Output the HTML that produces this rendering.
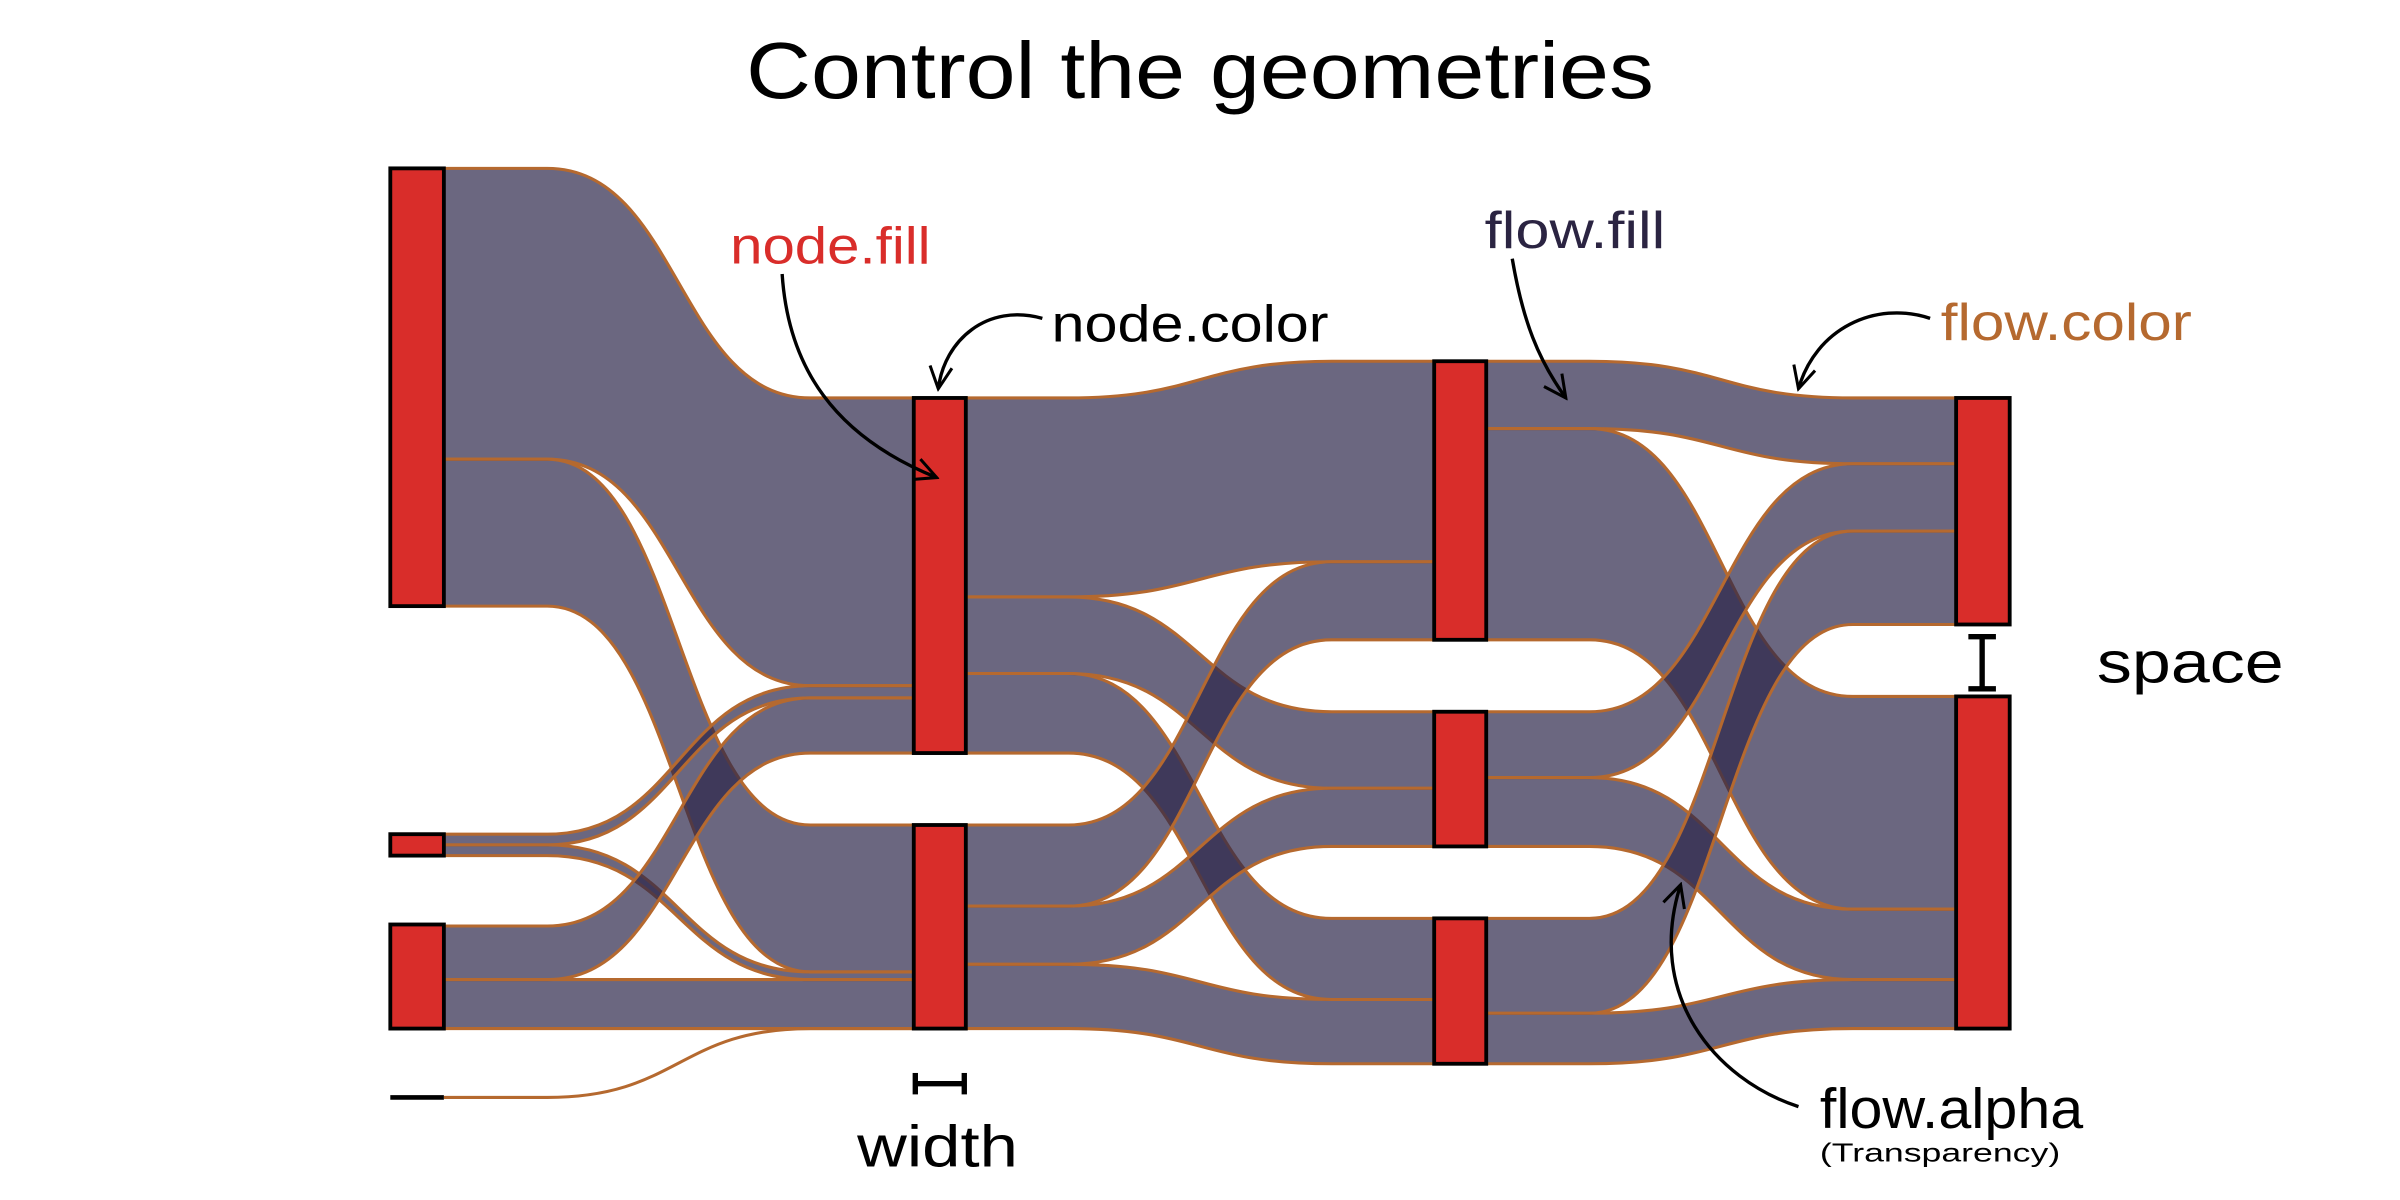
<!DOCTYPE html>
<html><head><meta charset="utf-8"><style>
html,body{margin:0;padding:0;background:#fff;}
svg{display:block;}
text{font-family:"Liberation Sans",Arial,sans-serif;}
</style></head><body>
<svg width="2400" height="1200" viewBox="0 0 1568 784" xmlns="http://www.w3.org/2000/svg">
<defs>
<marker id="ah2" viewBox="0 0 20 20" refX="18" refY="10" markerWidth="18" markerHeight="18" markerUnits="userSpaceOnUse" orient="auto">
<path d="M2,2 L18,10 L2,18" fill="none" stroke="#000" stroke-width="2.2"/>
</marker>
</defs>
<rect width="1568" height="784" fill="#fff"/>
<text x="784" y="64" font-size="52" text-anchor="middle" textLength="593" lengthAdjust="spacingAndGlyphs">Control the geometries</text>

<g fill="rgb(44,39,74)" fill-opacity="0.7" stroke="#b5692f" stroke-width="2">
<!-- col1 -> col2 -->
<path d="M290,110 L357.5,110 C443.5,110 443.5,260 529.5,260 L597,260 L597,448 L529.5,448 C443.5,448 443.5,300 357.5,300 L290,300 Z"/>
<path d="M290,300 L357.5,300 C443.5,300 443.5,539 529.5,539 L597,539 L597,635 L529.5,635 C443.5,635 443.5,396 357.5,396 L290,396 Z"/>
<path d="M290,545 L357.5,545 C443.5,545 443.5,448 529.5,448 L597,448 L597,456 L529.5,456 C443.5,456 443.5,552 357.5,552 L290,552 Z"/>
<path d="M290,552 L357.5,552 C443.5,552 443.5,635 529.5,635 L597,635 L597,640 L529.5,640 C443.5,640 443.5,559 357.5,559 L290,559 Z"/>
<path d="M290,605 L357.5,605 C443.5,605 443.5,456 529.5,456 L597,456 L597,492 L529.5,492 C443.5,492 443.5,640 357.5,640 L290,640 Z"/>
<path d="M290,640 L597,640 L597,672 L290,672 Z"/>
<!-- col2 -> col3 -->
<path d="M631,260 L698,260 C784,260 784,236 870,236 L937,236 L937,367 L870,367 C784,367 784,390 698,390 L631,390 Z"/>
<path d="M631,390 L698,390 C784,390 784,465 870,465 L937,465 L937,515 L870,515 C784,515 784,440 698,440 L631,440 Z"/>
<path d="M631,440 L698,440 C784,440 784,600 870,600 L937,600 L937,653 L870,653 C784,653 784,492 698,492 L631,492 Z"/>
<path d="M631,539 L698,539 C784,539 784,367 870,367 L937,367 L937,418 L870,418 C784,418 784,592 698,592 L631,592 Z"/>
<path d="M631,592 L698,592 C784,592 784,515 870,515 L937,515 L937,553 L870,553 C784,553 784,630 698,630 L631,630 Z"/>
<path d="M631,630 L698,630 C784,630 784,653 870,653 L937,653 L937,695 L870,695 C784,695 784,672 698,672 L631,672 Z"/>
<!-- col3 -> col4 -->
<path d="M971,236 L1038.5,236 C1124.5,236 1124.5,260 1210.5,260 L1278,260 L1278,303 L1210.5,303 C1124.5,303 1124.5,280 1038.5,280 L971,280 Z"/>
<path d="M971,280 L1038.5,280 C1124.5,280 1124.5,455 1210.5,455 L1278,455 L1278,594 L1210.5,594 C1124.5,594 1124.5,418 1038.5,418 L971,418 Z"/>
<path d="M971,465 L1038.5,465 C1124.5,465 1124.5,303 1210.5,303 L1278,303 L1278,347 L1210.5,347 C1124.5,347 1124.5,508 1038.5,508 L971,508 Z"/>
<path d="M971,508 L1038.5,508 C1124.5,508 1124.5,594 1210.5,594 L1278,594 L1278,640 L1210.5,640 C1124.5,640 1124.5,553 1038.5,553 L971,553 Z"/>
<path d="M971,600 L1038.5,600 C1124.5,600 1124.5,347 1210.5,347 L1278,347 L1278,408 L1210.5,408 C1124.5,408 1124.5,662 1038.5,662 L971,662 Z"/>
<path d="M971,662 L1038.5,662 C1124.5,662 1124.5,640 1210.5,640 L1278,640 L1278,672 L1210.5,672 C1124.5,672 1124.5,695 1038.5,695 L971,695 Z"/>
</g>
<path d="M290,717 L357.5,717 C443.5,717 443.5,672 529.5,672 L597,672" fill="none" stroke="#b5692f" stroke-width="2"/>

<g fill="#d92d2a" stroke="#000" stroke-width="2.5">
<rect x="255" y="110" width="35" height="286"/>
<rect x="255" y="545" width="35" height="14"/>
<rect x="255" y="604" width="35" height="68"/>
<rect x="597" y="260" width="34" height="232"/>
<rect x="597" y="539" width="34" height="133"/>
<rect x="937" y="236" width="34" height="182"/>
<rect x="937" y="465" width="34" height="88"/>
<rect x="937" y="600" width="34" height="95"/>
<rect x="1278" y="260" width="35" height="148"/>
<rect x="1278" y="455" width="35" height="217"/>
</g>
<line x1="255" y1="717" x2="290" y2="717" stroke="#000" stroke-width="3"/>

<g stroke="#000" stroke-width="3.5">
<line x1="598" y1="708" x2="630" y2="708"/>
<line x1="598" y1="701" x2="598" y2="715"/>
<line x1="630" y1="701" x2="630" y2="715"/>
<line x1="1295" y1="416" x2="1295" y2="450"/>
<line x1="1286" y1="416" x2="1304" y2="416"/>
<line x1="1286" y1="450" x2="1304" y2="450"/>
</g>

<g fill="none" stroke="#000" stroke-width="2.2">
<path d="M511,179 C515,240 545,285 612,312" marker-end="url(#ah2)"/>
<path d="M681,208 C645,198 617,222 613,254" marker-end="url(#ah2)"/>
<path d="M988,169 C995,210 1005,235 1023,260" marker-end="url(#ah2)"/>
<path d="M1261,208 C1225,196 1186,215 1175,254" marker-end="url(#ah2)"/>
<path d="M1175,723 C1120,705 1075,650 1098,578" marker-end="url(#ah2)"/>
</g>

<text x="477" y="172" font-size="34" fill="#d92d2a" textLength="131" lengthAdjust="spacingAndGlyphs">node.fill</text>
<text x="687" y="223" font-size="34" fill="#000" textLength="181" lengthAdjust="spacingAndGlyphs">node.color</text>
<text x="970" y="162" font-size="34" fill="#2b2442" textLength="118" lengthAdjust="spacingAndGlyphs">flow.fill</text>
<text x="1268" y="222" font-size="34" fill="#b5692f" textLength="164" lengthAdjust="spacingAndGlyphs">flow.color</text>
<text x="1370" y="446" font-size="38" fill="#000" textLength="122" lengthAdjust="spacingAndGlyphs">space</text>
<text x="560" y="762" font-size="38" fill="#000" textLength="105" lengthAdjust="spacingAndGlyphs">width</text>
<text x="1189" y="737" font-size="37" fill="#000" textLength="172" lengthAdjust="spacingAndGlyphs">flow.alpha</text>
<text x="1189" y="759" font-size="17" fill="#000" textLength="157" lengthAdjust="spacingAndGlyphs">(Transparency)</text>
</svg>
</body></html>
